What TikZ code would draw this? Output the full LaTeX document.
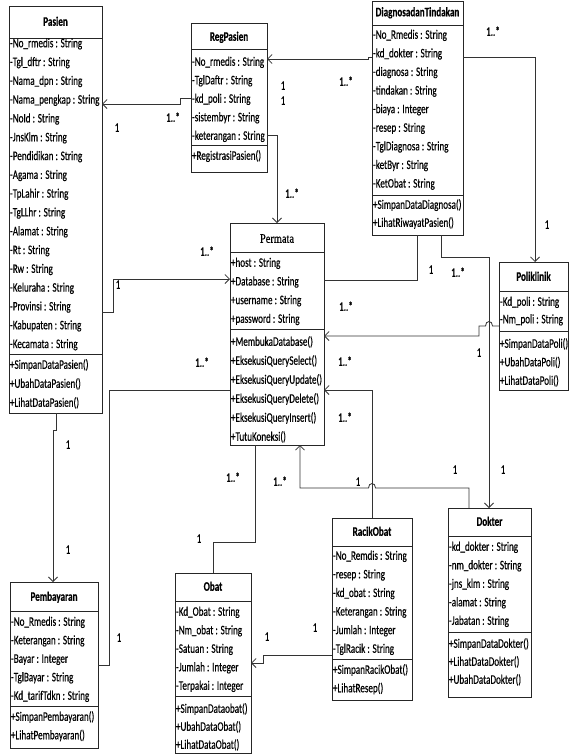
\documentclass[tikz,border=0pt]{standalone}
\usepackage{fontspec}
\setmainfont[FakeStretch=0.70,FakeBold=0.4]{Carlito}
\newfontfamily\ttlserif[FakeStretch=0.8,FakeBold=0.5]{Liberation Serif}
\usetikzlibrary{arrows.meta}
\newcommand\umlbox[5]{\node[box, minimum width={#4-#2}, minimum height={#5-#3}] (#1) at ({(#2+#4)/2},{(#3+#5)/2}) {};}
\newcommand\umlsep[2]{\draw[boxline] (#1.west |- 0,#2) -- (#1.east |- 0,#2);}
\newcommand\umllines[5]{\foreach \t [count=\i] in {#5} {\node[txt] (#1\i) at (#2,{#3+#4*(\i-1)}) {\t};}}
\tikzset{
  basefont/.style={font=\fontsize{13}{15}\selectfont},
  box/.style={draw=black!85, line width=0.8pt, fill=white, inner sep=0pt, outer sep=0pt},
  boxline/.style={draw=black!85, line width=0.8pt},
  txt/.style={basefont, anchor=west, inner sep=0pt, text height=9.5pt, text depth=2pt},
  ttl/.style={font=\fontsize{13}{15}\selectfont\bfseries, anchor=center, inner sep=0pt, text height=9.5pt, text depth=2pt},
  lbl/.style={basefont, anchor=center, inner sep=0pt, text height=9.5pt, text depth=2pt},
  conn/.style={draw=black!80, line width=0.8pt},
  arr/.style={conn, -{Straight Barb[length=4.5pt,width=9pt,line width=0.8pt]}}
}
\begin{document}
\begin{tikzpicture}[x=1pt,y=-1pt]
\fill[white] (0,0) rectangle (569,755);
\useasboundingbox (0,0) rectangle (569,755);

% ---------- class boxes ----------
\umlbox{pasien}{9}{6}{102}{413}
\umlbox{reg}{191}{23}{267}{172}
\umlbox{diag}{372}{1}{463}{235}
\umlbox{permata}{230}{223}{324}{445}
\umlbox{poli}{499}{262}{568}{390}
\umlbox{bayar}{10}{582}{98}{748}
\umlbox{obat}{175}{573}{251}{753}
\umlbox{racik}{332}{518}{412}{700}
\umlbox{dokter}{448}{508}{531}{697}

% Pasien
\node[ttl] (pasien-t) at (pasien.center |- 0,22) {Pasien};
\umlsep{pasien}{38}
\umllines{pasien-a}{9.8}{43.5}{18.8}{-No\_rmedis : String,-Tgl\_dftr : String,-Nama\_dpn : String,-Nama\_pengkap : String,-NoId : String,-JnsKlm : String,-Pendidikan : String,-Agama : String,-TpLahir : String,-TgLLhr : String,-Alamat : String,-Rt : String,-Rw : String,-Keluraha : String,-Provinsi : String,-Kabupaten : String,-Kecamata : String}
\umlsep{pasien}{354}
\umllines{pasien-m}{9.8}{365}{19}{+SimpanDataPasien(),+UbahDataPasien(),+LihatDataPasien()}

% RegPasien
\node[ttl] (reg-t) at (reg.center |- 0,37) {RegPasien};
\umlsep{reg}{49}
\umllines{reg-a}{191.8}{62}{18.5}{-No\_rmedis : String,-TglDaftr : String,-kd\_poli : String,-sistembyr : String,-keterangan : String}
\umlsep{reg}{145}
\umllines{reg-m}{191.8}{156}{18.5}{+RegistrasiPasien()}

% DiagnosadanTindakan
\node[ttl] (diag-t) at (diag.center |- 0,12.5) {DiagnosadanTindakan};
\umlsep{diag}{25}
\umllines{diag-a}{372.8}{35}{18.6}{-No\_Rmedis : String,-kd\_dokter : String,-diagnosa : String,-tindakan : String,-biaya : Integer,-resep : String,-TglDiagnosa : String,-ketByr : String,-KetObat : String}
\umlsep{diag}{195}
\umllines{diag-m}{372.8}{205}{18}{+SimpanDataDiagnosa(),+LihatRiwayatPasien()}

% Permata
\node[lbl, font=\fontsize{13}{15}\ttlserif\selectfont] (permata-t) at (permata.center |- 0,239) {Permata};
\umlsep{permata}{252}
\umllines{permata-a}{230.8}{263}{18.7}{+host : String,+Database : String,+username : String,+password : String}
\umlsep{permata}{329}
\umllines{permata-m}{230.8}{342}{19}{+MembukaDatabase(),+EksekusiQuerySelect(),+EksekusiQueryUpdate(),+EksekusiQueryDelete(),+EksekusiQueryInsert(),+TutuKoneksi()}

% Poliklinik
\node[ttl] (poli-t) at (poli.center |- 0,277) {Poliklinik};
\umlsep{poli}{291}
\umllines{poli-a}{499.8}{302}{17.5}{-Kd\_poli : String,-Nm\_poli : String}
\umlsep{poli}{331}
\umllines{poli-m}{499.8}{344}{18.5}{+SimpanDataPoli(),+UbahDataPoli(),+LihatDataPoli()}

% Pembayaran
\node[ttl] (bayar-t) at (bayar.center |- 0,597) {Pembayaran};
\umlsep{bayar}{611}
\umllines{bayar-a}{10.8}{622}{18.5}{-No\_Rmedis : String,-Keterangan : String,-Bayar : Integer,-TglBayar : String,-Kd\_tarifTdkn : String}
\umlsep{bayar}{706}
\umllines{bayar-m}{10.8}{717}{18.5}{+SimpanPembayaran(),+LihatPembayaran()}

% Obat
\node[ttl] (obat-t) at (obat.center |- 0,587) {Obat};
\umlsep{obat}{601}
\umllines{obat-a}{175.8}{612}{18.5}{-Kd\_Obat : String,-Nm\_obat : String,-Satuan : String,-Jumlah : Integer,-Terpakai : Integer}
\umlsep{obat}{696}
\umllines{obat-m}{175.8}{709}{18}{+SimpanDataobat(),+UbahDataObat(),+LihatDataObat()}

% RacikObat
\node[ttl] (racik-t) at (racik.center |- 0,532) {RacikObat};
\umlsep{racik}{546}
\umllines{racik-a}{332.8}{556}{18.6}{-No\_Remdis : String,-resep : String,-kd\_obat : String,-Keterangan : String,-Jumlah : Integer,-TglRacik : String}
\umlsep{racik}{659}
\umllines{racik-m}{332.8}{670}{18.5}{+SimpanRacikObat(),+LihatResep()}

% Dokter
\node[ttl] (dokter-t) at (dokter.center |- 0,522) {Dokter};
\umlsep{dokter}{536}
\umllines{dokter-a}{448.8}{547}{18.5}{-kd\_dokter : String,-nm\_dokter : String,-jns\_klm : String,-alamat : String,-Jabatan : String}
\umlsep{dokter}{632}
\umllines{dokter-m}{448.8}{644}{18}{+SimpanDataDokter(),+LihatDataDokter(),+UbahDataDokter()}

% ---------- connectors ----------
% RegPasien -> Pasien
\draw[arr] (reg.west |- 0,98) -- (180,98) -- (180,104) -- (pasien.east |- 0,104);
\node[lbl] (l1) at (117,128) {1};
\node[lbl] (l2) at (173,118) {1..*};
% Diagnosa -> RegPasien
\draw[arr] (diag.west |- 0,57) -- (368,57) -- (368,59) -- (reg.east |- 0,59);
\node[lbl] (l3) at (346,82) {1..*};
\node[lbl] (l4) at (283,86) {1};
\node[lbl] (l5) at (283,101) {1};
% RegPasien -> Permata
\draw[arr] (reg.east |- 0,135) -- (277,135) -- (permata.north -| 277,0);
\node[lbl] (l6) at (292,194) {1..*};
% Pasien -> Permata
\draw[arr] (pasien.east |- 0,312) -- (113,312) -- (113,279) -- (permata.west |- 0,279);
\node[lbl] (l7) at (118,285) {1};
\node[lbl] (l8) at (207,252) {1..*};
% Pembayaran -> Permata
\draw[conn] (bayar.east |- 0,665) -- (109,665) -- (109,390) -- (permata.west |- 0,390);
\node[lbl] (l9) at (119,638) {1};
\node[lbl] (l10) at (202,363) {1..*};
% Pasien -> Pembayaran
\draw[arr] (pasien.south -| 56,0) -- (56,430) -- (53,430) -- (bayar.north -| 53,0);
\node[lbl] (l11) at (68,445) {1};
\node[lbl] (l12) at (68,550) {1};
% Diagnosa -> Poliklinik
\draw[arr] (diag.east |- 0,57) -- (535,57) -- (poli.north -| 535,0);
\node[lbl] (l13) at (493,32) {1..*};
\node[lbl] (l14) at (547,225) {1};
% Diagnosa -> Permata
\draw[conn] (diag.south -| 417,0) -- (417,280) -- (permata.east |- 0,280);
\node[lbl] (l15) at (431,270) {1};
\node[lbl] (l16) at (458,273) {1..*};
% Diagnosa -> Dokter
\draw[arr] (diag.south -| 441,0) -- (441,257) -- (489,257) -- (dokter.north -| 489,0);
\node[lbl] (l17) at (503,470) {1};
% Poliklinik -> Permata
\draw[arr] (poli.west |- 0,326) -- (492.5,326) .. controls (492.5,320) and (485.5,320) .. (485.5,326) -- (479,326) -- (479,336) -- (permata.east |- 0,336);
\node[lbl] (l18) at (346,307) {1..*};
\node[lbl] (l19) at (479,353) {1};
% Dokter -> Permata
\draw[arr] (dokter.north -| 469,0) -- (469,488) -- (375.5,488) .. controls (375.5,482) and (368.5,482) .. (368.5,488) -- (300,488) -- (permata.south -| 300,0);
\node[lbl] (l20) at (455,470) {1};
\node[lbl] (l21) at (358,482) {1};
\node[lbl] (l22) at (280,482) {1..*};
% RacikObat -> Permata
\draw[arr] (racik.north -| 372,0) -- (372,390) -- (permata.east |- 0,390);
\node[lbl] (l23) at (345,362) {1..*};
\node[lbl] (l24) at (345,418) {1..*};
% Permata -> Obat
\draw[conn] (permata.south -| 255,0) -- (255,542) -- (213,542) -- (obat.north -| 213,0);
\node[lbl] (l25) at (233,478) {1..*};
\node[lbl] (l26) at (199,539) {1};
% RacikObat -> Obat
\draw[arr] (racik.west |- 0,655) -- (263,655) -- (263,663) -- (obat.east |- 0,663);
\node[lbl] (l27) at (267,637) {1};
\node[lbl] (l28) at (315,628) {1};
\end{tikzpicture}
\end{document}
